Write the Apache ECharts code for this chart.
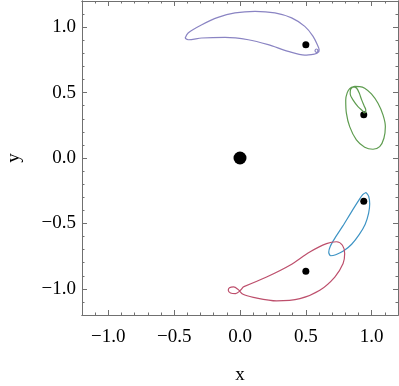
<!DOCTYPE html>
<html>
<head>
<meta charset="utf-8">
<script src="https://cdn.jsdelivr.net/npm/echarts@6/dist/echarts.min.js"></script>
<style>
  html, body { margin: 0; padding: 0; background: #fff; }
  #main { width: 399px; height: 386px; }
</style>
</head>
<body>
<div id="main"></div>
<script>
// tick values
const majorTicks = [-1, -0.5, 0, 0.5, 1];
const minorTicks = [-1.1, -0.9, -0.8, -0.7, -0.6, -0.4, -0.3, -0.2, -0.1,
  0.1, 0.2, 0.3, 0.4, 0.6, 0.7, 0.8, 0.9, 1.1];

// orbit curves, [x, y]
const purpleOrbit = [
  [-0.417, 0.916], [-0.394, 0.956], [-0.290, 1.019], [-0.167, 1.075], [-0.038, 1.109],
  [0.114, 1.121], [0.265, 1.109], [0.392, 1.071], [0.492, 1.006], [0.555, 0.930],
  [0.593, 0.853], [0.601, 0.828], [0.595, 0.808], [0.580, 0.807], [0.570, 0.820],
  [0.580, 0.833], [0.591, 0.824], [0.587, 0.801], [0.568, 0.795], [0.492, 0.787],
  [0.366, 0.815], [0.214, 0.866], [0.063, 0.904], [-0.114, 0.922], [-0.290, 0.917],
  [-0.392, 0.904], [-0.417, 0.916]
];
const greenOrbit = [
  [0.871, 0.547], [0.909, 0.546], [0.947, 0.534], [0.998, 0.490], [1.048, 0.419],
  [1.086, 0.330], [1.104, 0.240], [1.093, 0.151], [1.061, 0.087], [1.010, 0.067],
  [0.947, 0.082], [0.884, 0.138], [0.833, 0.240], [0.808, 0.343], [0.803, 0.444],
  [0.814, 0.498], [0.833, 0.530], [0.860, 0.543], [0.886, 0.533], [0.905, 0.498],
  [0.924, 0.444], [0.943, 0.398], [0.955, 0.368], [0.955, 0.349], [0.942, 0.345],
  [0.932, 0.360], [0.896, 0.393], [0.858, 0.444], [0.837, 0.490], [0.839, 0.521],
  [0.852, 0.539], [0.871, 0.547]
];
const blueOrbit = [
  [0.958, -0.264], [0.977, -0.291], [0.985, -0.352], [0.977, -0.421], [0.951, -0.506],
  [0.905, -0.586], [0.848, -0.659], [0.788, -0.709], [0.727, -0.739], [0.689, -0.747],
  [0.674, -0.720], [0.686, -0.674], [0.723, -0.609], [0.780, -0.521], [0.841, -0.421],
  [0.898, -0.330], [0.932, -0.280], [0.958, -0.264]
];
const redOrbit = [
  [0.025, -0.985], [0.202, -0.910], [0.379, -0.820], [0.530, -0.718], [0.657, -0.654],
  [0.733, -0.640], [0.778, -0.667], [0.795, -0.730], [0.783, -0.807], [0.720, -0.910],
  [0.606, -1.011], [0.455, -1.075], [0.278, -1.092], [0.101, -1.065], [0.023, -1.042],
  [-0.015, -1.004], [-0.049, -0.985], [-0.080, -0.992], [-0.089, -1.011], [-0.072, -1.032],
  [-0.034, -1.037], [-0.004, -1.019], [0.025, -0.985]
];

// bodies
const smallBodies = [[0.5, 0.866], [0.94, 0.33], [0.94, -0.33], [0.5, -0.866]];
const bigBody = [[0, 0]];

const frameColor = '#707070';
const serif = '"Liberation Serif", "DejaVu Serif", serif';

function fmt(v) {
  return v.toFixed(1).replace('-', '\u2212');
}

// one axis of the frame: major or minor ticks on a side
function frameAxis(position, ticks, len, extra) {
  return Object.assign({
    type: 'value',
    min: -1.2,
    max: 1.2,
    position: position,
    axisLine: { show: true, onZero: false, lineStyle: { color: frameColor, width: 1 } },
    axisTick: { show: true, inside: true, length: len, customValues: ticks,
      lineStyle: { color: frameColor, width: 1 } },
    axisLabel: { show: false },
    splitLine: { show: false },
    nameMoveOverlap: false
  }, extra || {});
}

const labelStyle = { fontFamily: serif, fontSize: 19, color: '#000' };

let myChart = echarts.init(document.getElementById('main'));
myChart.setOption({
  animation: false,
  grid: { left: 82, right: 1, top: 1, bottom: 71, outerBoundsMode: 'none' },
  xAxis: [
    frameAxis('bottom', majorTicks, 5, {
      axisLabel: Object.assign({ show: true, customValues: majorTicks, formatter: fmt, margin: 13 }, labelStyle),
      name: 'x', nameLocation: 'middle', nameGap: 51,
      nameTextStyle: labelStyle
    }),
    frameAxis('bottom', minorTicks, 2.5),
    frameAxis('top', majorTicks, 5),
    frameAxis('top', minorTicks, 2.5)
  ],
  yAxis: [
    frameAxis('left', majorTicks, 5, {
      axisLabel: Object.assign({ show: true, customValues: majorTicks, formatter: fmt, margin: 6 }, labelStyle),
      name: 'y', nameLocation: 'middle', nameGap: 58, nameRotate: 90,
      nameTextStyle: labelStyle
    }),
    frameAxis('left', minorTicks, 2.5),
    frameAxis('right', majorTicks, 5),
    frameAxis('right', minorTicks, 2.5)
  ],
  series: [
    {
      name: 'purple', type: 'line', data: purpleOrbit, smooth: 0.3, showSymbol: false,
      lineStyle: { color: '#8a84c3', width: 1.2 }
    },
    {
      name: 'green', type: 'line', data: greenOrbit, smooth: 0.3, showSymbol: false,
      lineStyle: { color: '#5e9c4f', width: 1.2 }
    },
    {
      name: 'blue', type: 'line', data: blueOrbit, smooth: 0.3, showSymbol: false,
      lineStyle: { color: '#3d93c4', width: 1.2 }
    },
    {
      name: 'red', type: 'line', data: redOrbit, smooth: 0.3, showSymbol: false,
      lineStyle: { color: '#bd4f6c', width: 1.2 }
    },
    {
      type: 'scatter', data: smallBodies, symbolSize: 7,
      itemStyle: { color: '#000', opacity: 1 }
    },
    {
      type: 'scatter', data: bigBody, symbolSize: 13,
      itemStyle: { color: '#000', opacity: 1 }
    }
  ]
});
</script>
</body>
</html>
